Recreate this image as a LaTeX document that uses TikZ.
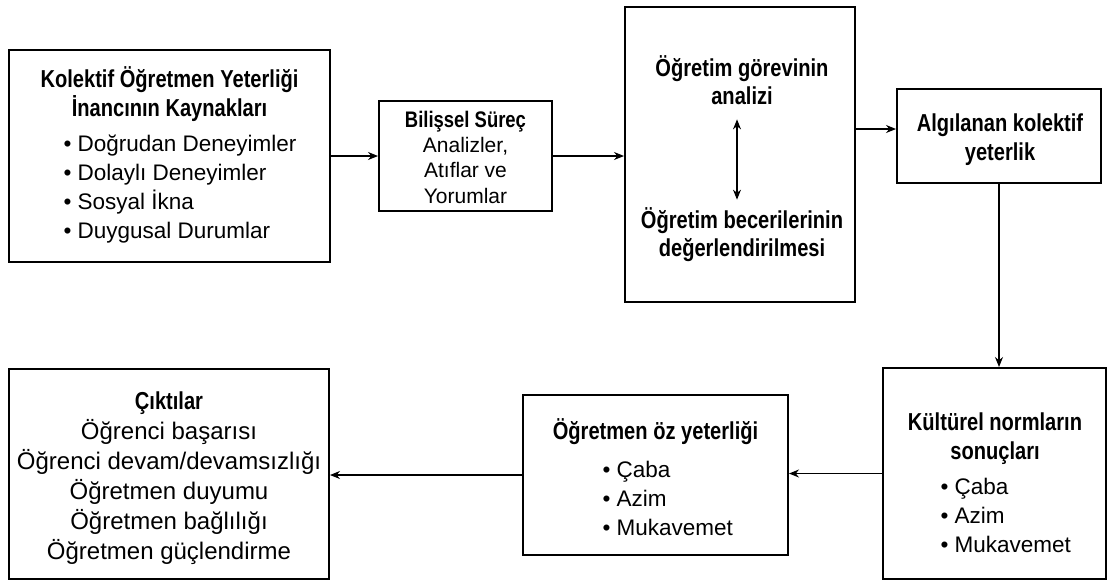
\documentclass[tikz,border=0pt]{standalone}
\usepackage{fontspec}
\setmainfont{Liberation Sans}
\newfontfamily\headfont[FakeStretch=0.82]{Liberation Sans}
\usepackage{tikz}
\usetikzlibrary{arrows.meta}
\newcommand{\headsz}{\headfont\bfseries\fontsize{24.5}{28.5}\selectfont}
\newcommand{\bodysz}{\fontsize{22.5}{28.7}\selectfont}
\tikzset{box/.style={draw, line width=2pt, inner sep=0pt},
 head/.style={font=\headsz, align=center, inner sep=0pt},
 body/.style={font=\bodysz, align=center, inner sep=0pt}}

\begin{document}
\begin{tikzpicture}[x=1pt, y=-1pt, line width=1.1pt, >={Stealth[length=10pt,width=8pt]}]
\useasboundingbox (0,0) rectangle (1110,582);
% boxes
\node[box, minimum width=321pt, minimum height=212pt] (src) at (169.5,156) {};
\node[box, minimum width=173pt, minimum height=110pt] (cog) at (465.5,156) {};
\node[box, minimum width=230pt, minimum height=295pt] (anl) at (740,154.5) {};
\node[box, minimum width=204pt, minimum height=94pt] (pce) at (999,136) {};
\node[box, minimum width=223pt, minimum height=211pt] (cul) at (994.5,473.5) {};
\node[box, minimum width=265pt, minimum height=160pt] (tse) at (655.5,475) {};
\node[box, minimum width=320pt, minimum height=210pt] (out) at (169,474) {};
% texts
\node[head] (srcT) at (169.5,94) {Kolektif Öğretmen Yeterliği\\İnancının Kaynakları};
\node[body, align=left, anchor=west] (srcL) at (63,189) {• Doğrudan Deneyimler\\• Dolaylı Deneyimler\\• Sosyal İkna\\• Duygusal Durumlar};
\node[head, font={\headfont\bfseries\fontsize{22.5}{25.5}\selectfont}] (cogT) at (465.5,122) {Bilişsel Süreç};
\node[body, font=\fontsize{21}{25.5}\selectfont] (cogL) at (465.5,170) {Analizler,\\Atıflar ve\\Yorumlar};
\node[head] (task) at (742,80) {Öğretim görevinin\\analizi};
\node[head] (skill) at (742,234.5) {Öğretim becerilerinin\\değerlendirilmesi};
\node[head] (pceT) at (1000,139.5) {Algılanan kolektif\\yeterlik};
\node[head] (culT) at (995,438.5) {Kültürel normların\\sonuçları};
\node[body, align=left, anchor=west] (culL) at (940,515.5) {• Çaba\\• Azim\\• Mukavemet};
\node[head] (tseT) at (655.5,432) {Öğretmen öz yeterliği};
\node[body, align=left, anchor=west] (tseL) at (602,498.5) {• Çaba\\• Azim\\• Mukavemet};
\node[head] (outT) at (169,403) {Çıktılar};
\node[body, font=\fontsize{24}{30}\selectfont] (outL) at (169,492) {Öğrenci başarısı\\Öğrenci devam/devamsızlığı\\Öğretmen duyumu\\Öğretmen bağlılığı\\Öğretmen güçlendirme};
% connectors
\draw[->] (src.east) -- (src.east -| cog.west);
\draw[->] (cog.east) -- (cog.east -| anl.west);
\coordinate (pceIn) at ([yshift=7pt]pce.west);
\draw[->] (anl.east |- pceIn) -- (pceIn);
\draw[->] (pce.south) -- (pce.south |- cul.north);
\draw[->] (cul.west) -- (cul.west -| tse.east);
\draw[->] (tse.west) -- (tse.west -| out.east);
\draw[<->, shorten <=14pt, shorten >=7pt] ([xshift=-5pt]task.south) -- ([xshift=-5pt]task.south |- skill.north);
\end{tikzpicture}
\end{document}
